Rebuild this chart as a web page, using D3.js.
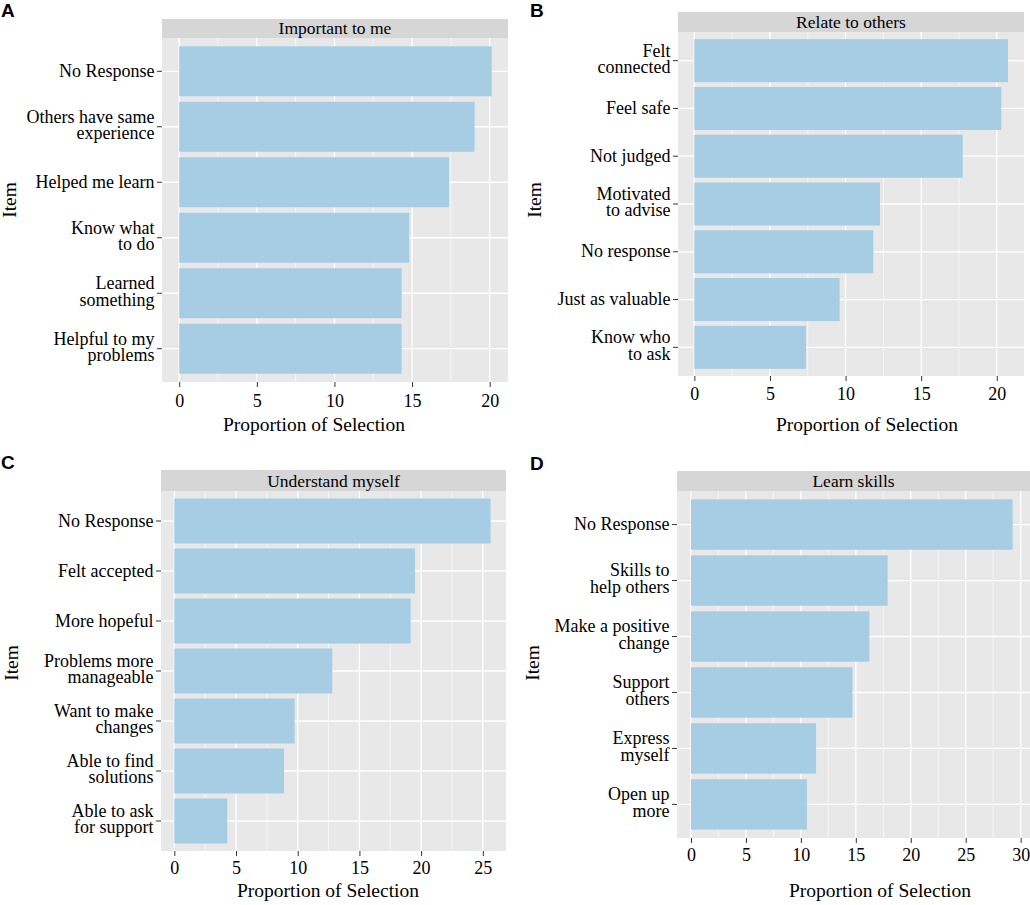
<!DOCTYPE html>
<html>
<head>
<meta charset="utf-8">
<script src="https://cdn.jsdelivr.net/npm/d3@7"></script>
<style>
  body { margin: 0; background: #fff; }
  svg { display: block; }
  text { font-family: "Liberation Serif", "Times New Roman", serif; fill: #000; }
</style>
</head>
<body>
<svg id="chart" width="1030" height="905"></svg>
<script>
// data (proportion of selection, %)
const itemsA = ["No Response", "Others have same\nexperience", "Helped me learn", "Know what\nto do", "Learned\nsomething", "Helpful to my\nproblems"]
const valuesA = [20.13, 19.03, 17.38, 14.82, 14.33, 14.33]

const itemsB = ["Felt\nconnected", "Feel safe", "Not judged", "Motivated\nto advise", "No response", "Just as valuable", "Know who\nto ask"]
const valuesB = [20.74, 20.3, 17.75, 12.28, 11.84, 9.61, 7.38]

const itemsC = ["No Response", "Felt accepted", "More hopeful", "Problems more\nmanageable", "Want to make\nchanges", "Able to find\nsolutions", "Able to ask\nfor support"]
const valuesC = [25.63, 19.5, 19.15, 12.8, 9.75, 8.89, 4.29]

const itemsD = ["No Response", "Skills to\nhelp others", "Make a positive\nchange", "Support\nothers", "Express\nmyself", "Open up\nmore"]
const valuesD = [29.27, 17.9, 16.24, 14.7, 11.39, 10.55]

const ticksA = [0, 5, 10, 15, 20]
const ticksB = [0, 5, 10, 15, 20]
const ticksC = [0, 5, 10, 15, 20, 25]
const ticksD = [0, 5, 10, 15, 20, 25, 30]

const stripTitles = ["Important to me", "Relate to others", "Understand myself", "Learn skills"]
const panelLetters = ["A", "B", "C", "D"]

// layout of each facet
const panels = [
  { items: itemsA, values: valuesA, ticks: ticksA, domain: [-1.11, 21.18],
    x0: 162, x1: 508, stripTop: 19, top: 38, bottom: 382,
    letter: [1, 17], itemPos: [10, 200], titlePos: [314, 431], tickY: 25 },
  { items: itemsB, values: valuesB, ticks: ticksB, domain: [-1.08, 21.8],
    x0: 678, x1: 1024, stripTop: 12, top: 32, bottom: 376,
    letter: [530, 17], itemPos: [535, 200], titlePos: [867, 431], tickY: 24 },
  { items: itemsC, values: valuesC, ticks: ticksC, domain: [-1.08, 26.88],
    x0: 161, x1: 506, stripTop: 470, top: 491, bottom: 851,
    letter: [1, 469], itemPos: [12, 663], titlePos: [328, 897], tickY: 23 },
  { items: itemsD, values: valuesD, ticks: ticksD, domain: [-1.27, 30.85],
    x0: 677, x1: 1030, stripTop: 471, top: 491, bottom: 838,
    letter: [530, 470], itemPos: [533, 663], titlePos: [880, 897], tickY: 23 },
]

const barColor = "#a6cde4"
const panelBg = "#e8e8e8"
const stripBg = "#d6d6d6"
const lineH = 16.5

const svg = d3.select("#chart")

panels.forEach((p, i) => {
  const x = d3.scaleLinear().domain(p.domain).range([p.x0, p.x1])
  const y = d3.scaleBand()
    .domain(p.items)
    .range([p.top, p.bottom])
    .paddingInner(0.1)
    .paddingOuter(0.15)

  const g = svg.append("g").attr("class", "panel")

  // strip
  g.append("rect")
    .attr("x", p.x0).attr("y", p.stripTop)
    .attr("width", p.x1 - p.x0).attr("height", p.top - p.stripTop)
    .attr("fill", stripBg)
  g.append("text")
    .attr("x", (p.x0 + p.x1) / 2)
    .attr("y", p.top - 4.5)
    .attr("text-anchor", "middle")
    .style("font-size", "17.5px")
    .text(stripTitles[i])

  // panel background
  g.append("rect")
    .attr("x", p.x0).attr("y", p.top)
    .attr("width", p.x1 - p.x0).attr("height", p.bottom - p.top)
    .attr("fill", panelBg)

  // minor grid
  const minor = p.ticks.map(t => t + 2.5).filter(t => t < p.domain[1])
  g.selectAll(".minor")
    .data(minor)
    .join("line")
    .attr("x1", d => x(d)).attr("x2", d => x(d))
    .attr("y1", p.top).attr("y2", p.bottom)
    .attr("stroke", "#fff").attr("stroke-width", 0.6)

  // major grid
  g.selectAll(".major")
    .data(p.ticks)
    .join("line")
    .attr("x1", d => x(d)).attr("x2", d => x(d))
    .attr("y1", p.top).attr("y2", p.bottom)
    .attr("stroke", "#fff").attr("stroke-width", 1.3)
  g.selectAll(".hgrid")
    .data(p.items)
    .join("line")
    .attr("x1", p.x0).attr("x2", p.x1)
    .attr("y1", d => y(d) + y.bandwidth() / 2)
    .attr("y2", d => y(d) + y.bandwidth() / 2)
    .attr("stroke", "#fff").attr("stroke-width", 1.3)

  // bars
  g.selectAll(".bar")
    .data(p.items.map((d, k) => ({ item: d, value: p.values[k] })))
    .join("rect")
    .attr("class", "bar")
    .attr("x", x(0))
    .attr("y", d => y(d.item))
    .attr("width", d => x(d.value) - x(0))
    .attr("height", y.bandwidth())
    .attr("fill", barColor)

  // x axis
  const xAxis = g.append("g")
    .attr("transform", `translate(0, ${p.bottom})`)
    .call(d3.axisBottom(x).tickValues(p.ticks).tickSize(5).tickFormat(d3.format("d")))
  xAxis.select(".domain").remove()
  xAxis.selectAll("line").attr("stroke", "#333")
  xAxis.selectAll("text")
    .attr("y", p.tickY).attr("dy", null)
    .attr("fill", "#000")
    .style("font-size", "18px")
    .style("font-family", "'Liberation Serif', serif")

  // y axis
  const yAxis = g.append("g")
    .attr("transform", `translate(${p.x0}, 0)`)
    .call(d3.axisLeft(y).tickSize(5).tickFormat(""))
  yAxis.select(".domain").remove()
  yAxis.selectAll("line").attr("stroke", "#333")

  p.items.forEach(item => {
    const lines = item.split("\n")
    const cy = y(item) + y.bandwidth() / 2
    const t = g.append("text")
      .attr("text-anchor", "end")
      .style("font-size", "18px")
    lines.forEach((ln, k) => {
      t.append("tspan")
        .attr("x", p.x0 - 7.5)
        .attr("y", cy + 5.6 + (k - (lines.length - 1) / 2) * lineH - (lines.length > 1 ? 1.5 : 0))
        .text(ln)
    })
  })

  // axis titles
  g.append("text")
    .attr("x", p.titlePos[0]).attr("y", p.titlePos[1])
    .attr("text-anchor", "middle")
    .style("font-size", "19.5px")
    .text("Proportion of Selection")
  g.append("text")
    .attr("transform", `translate(${p.itemPos[0]}, ${p.itemPos[1]}) rotate(-90)`)
    .attr("text-anchor", "middle")
    .attr("dy", "0.32em")
    .style("font-size", "19.5px")
    .text("Item")

  // panel letter
  g.append("text")
    .attr("x", p.letter[0]).attr("y", p.letter[1])
    .style("font-family", "'Liberation Sans', Arial, sans-serif")
    .style("font-weight", "bold")
    .style("font-size", "19px")
    .text(panelLetters[i])
})
</script>
</body>
</html>
